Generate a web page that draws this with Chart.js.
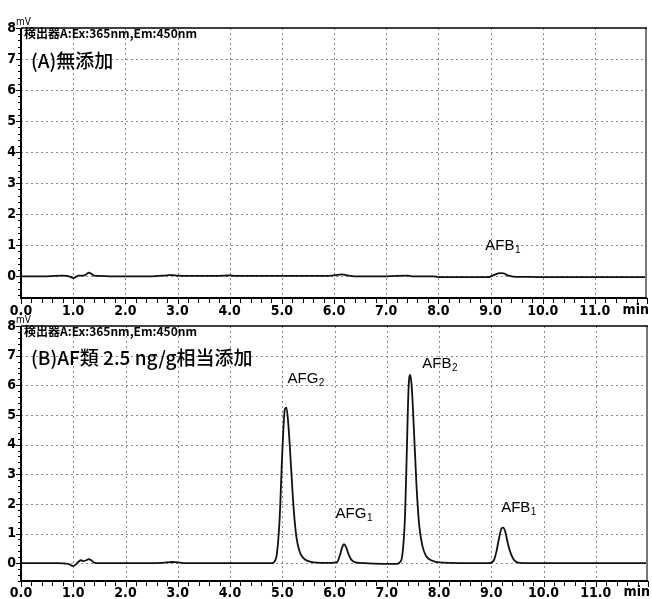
<!DOCTYPE html>
<html>
<head>
<meta charset="utf-8">
<script src="https://cdn.jsdelivr.net/npm/chart.js@4"></script>
<style>
html, body { margin: 0; padding: 0; background: #fff; }
#wrap { position: relative; width: 652px; height: 599px; overflow: hidden; }
canvas { position: absolute; left: 0; }
#chartA { top: 0; }
#chartB { top: 300px; }
</style>
</head>
<body>
<div id="wrap">
  <canvas id="chartA" width="652" height="320"></canvas>
  <canvas id="chartB" width="652" height="299"></canvas>
</div>
<script>
// tick values
const xTicks = [0, 1, 2, 3, 4, 5, 6, 7, 8, 9, 10, 11, 12];
const yTicks = [0, 1, 2, 3, 4, 5, 6, 7, 8];

// (A) blank sample
const timeA = [0, 0.5, 0.8, 0.95, 1.0, 1.05, 1.1, 1.2, 1.25, 1.3, 1.35, 1.4, 1.5, 1.8, 2.5, 2.8, 2.9, 3.0, 3.2, 3.9,
    4.0, 4.1, 5.0, 5.9, 6.1, 6.15, 6.25, 6.4, 7.0, 7.4, 7.5, 7.9, 8.0, 8.95, 9.05, 9.15, 9.2, 9.25, 9.35, 9.5,
    9.8, 10.0, 11.0, 12.0];
const signalA = [0, 0, 0.02, -0.02, -0.06, -0.02, 0.02, 0.02, 0.06, 0.12, 0.08, 0.02, 0.01, 0, 0, 0.03, 0.04, 0.02, 0.01, 0.02,
    0.03, 0.01, 0.01, 0.01, 0.05, 0.06, 0.03, 0, 0, 0.02, 0, 0, -0.03, -0.03, 0.03, 0.09, 0.1, 0.09, 0.02, -0.02,
    -0.02, -0.03, -0.03, -0.03];

// (B) spiked sample
const timeB = [0, 0.7, 0.9, 1.0, 1.05, 1.1, 1.15, 1.2, 1.25, 1.3, 1.35, 1.4, 1.5, 2.0, 2.7, 2.9, 3.0, 3.1, 4.0, 4.8,
    4.85, 4.9, 4.95, 5.0, 5.05, 5.08, 5.12, 5.17, 5.22, 5.27, 5.33, 5.4, 5.5, 5.6, 5.95, 6.05, 6.1, 6.15, 6.18, 6.22,
    6.27, 6.32, 6.4, 6.6, 7.0, 7.2, 7.25, 7.3, 7.35, 7.38, 7.42, 7.45, 7.48, 7.52, 7.57, 7.62, 7.68, 7.75, 7.85, 8.0,
    8.95, 9.05, 9.1, 9.15, 9.2, 9.23, 9.27, 9.32, 9.38, 9.45, 9.55, 10.0, 11.0, 12.0];
const signalB = [0, 0, -0.02, -0.1, -0.04, 0.05, 0.1, 0.07, 0.1, 0.14, 0.09, 0.02, 0, 0, 0.01, 0.04, 0.03, 0, 0, 0,
    0.05, 0.35, 1.5, 3.7, 5.2, 5.25, 4.6, 3.2, 1.8, 0.9, 0.4, 0.18, 0.07, 0.03, 0.01, 0.04, 0.25, 0.55, 0.64, 0.55,
    0.3, 0.12, 0.03, 0, -0.02, -0.02, 0.03, 0.3, 1.6, 3.5, 6.0, 6.35, 5.9, 4.5, 2.6, 1.3, 0.6, 0.25, 0.1, 0.03,
    0, 0.1, 0.4, 0.85, 1.18, 1.2, 1.05, 0.65, 0.3, 0.08, 0.01, 0, 0, 0];

const headerText = '検出器A:Ex:365nm,Em:450nm';
const titleA = '(A)無添加';
const titleB = '(B)AF類 2.5 ng/g相当添加';

// peak label anchors (min, mV)
const peaksA = [{ name: 'AFB', sub: '1', t: 8.9, v: 0.84 }];
const peaksB = [
    { name: 'AFG', sub: '2', t: 5.1, v: 6.08 },
    { name: 'AFG', sub: '1', t: 6.02, v: 1.52 },
    { name: 'AFB', sub: '2', t: 7.68, v: 6.59 },
    { name: 'AFB', sub: '1', t: 9.19, v: 1.72 },
];

const tickFont = '"DejaVu Sans Condensed"';

function line(ctx, x1, y1, x2, y2) {
    ctx.beginPath();
    ctx.moveTo(x1, y1);
    ctx.lineTo(x2, y2);
    ctx.stroke();
}

const framePlugin = {
    id: 'frame',
    beforeDatasetsDraw(chart) {
        const { ctx, chartArea: a, scales: { x, y } } = chart;
        ctx.save();
        ctx.strokeStyle = '#8a8a8a';
        ctx.lineWidth = 1;
        ctx.setLineDash([2, 3]);
        xTicks.forEach(v => {
            if (v <= 0 || v >= 12) return;
            const px = Math.round(x.getPixelForValue(v)) + 0.5;
            line(ctx, px, a.top, px, a.bottom);
        });
        yTicks.forEach(v => {
            if (v >= 8) return;
            const py = Math.round(y.getPixelForValue(v)) + 0.5;
            line(ctx, a.left, py, a.right, py);
        });
        ctx.restore();
    },
    afterDatasetsDraw(chart, args, opts) {
        const { ctx, chartArea: a, scales: { x, y } } = chart;
        ctx.save();
        // borders
        ctx.strokeStyle = '#777';
        ctx.lineWidth = 2;
        line(ctx, a.right - 1, a.top, a.right - 1, a.bottom);
        ctx.strokeStyle = '#000';
        ctx.lineWidth = 1.5;
        line(ctx, a.left, a.top, a.right, a.top);
        ctx.lineWidth = 2;
        line(ctx, a.left, a.top, a.left, a.bottom + 1);
        line(ctx, a.left, a.bottom, a.right, a.bottom);

        // tick marks
        ctx.lineWidth = 1;
        for (let i = 0; i <= 60; i++) {
            const px = Math.round(x.getPixelForValue(i * 0.2)) + 0.5;
            line(ctx, px, a.bottom, px, a.bottom + (i % 5 === 0 ? 6 : 5));
        }
        for (let i = -3; i <= 40; i++) {
            const py = Math.round(y.getPixelForValue(i * 0.2)) + 0.5;
            line(ctx, a.left - (i % 5 === 0 ? 5 : 3), py, a.left, py);
        }

        // axis units
        ctx.fillStyle = '#000';
        ctx.font = 'bold 14px ' + tickFont;
        ctx.textAlign = 'right';
        ctx.textBaseline = 'top';
        ctx.fillText('min', a.right + 2, a.bottom + x.options.ticks.padding);
        ctx.font = '10px "DejaVu Sans Condensed"';
        ctx.textAlign = 'left';
        ctx.textBaseline = 'alphabetic';
        ctx.fillText('mV', a.left - 5, a.top - 3);

        // detector header, squeezed
        ctx.font = '600 12px "Noto Sans CJK JP"';
        const w = ctx.measureText(headerText).width;
        ctx.save();
        ctx.translate(a.left + 3, a.top + 10);
        ctx.scale(173 / w, 1);
        ctx.fillText(headerText, 0, 0);
        ctx.restore();

        // panel title
        ctx.font = '500 19px "Noto Sans CJK JP"';
        ctx.fillText(opts.title, a.left + 10, y.getPixelForValue(7) + 9);

        // peak labels
        opts.peaks.forEach(p => {
            const px = x.getPixelForValue(p.t);
            const py = y.getPixelForValue(p.v);
            ctx.font = '15px "Liberation Sans"';
            ctx.fillText(p.name, px, py);
            const nw = ctx.measureText(p.name).width;
            ctx.font = '10px "Liberation Sans"';
            ctx.fillText(p.sub, px + nw + 0.5, py + 3);
        });
        ctx.restore();
    }
};

function makeChart(id, times, signal, title, peaks, padTop, xHeight, yMin, tickPad) {
    const ctx = document.getElementById(id).getContext('2d');
    return new Chart(ctx, {
        type: 'line',
        data: {
            datasets: [{
                data: times.map((t, i) => ({ x: t, y: signal[i] })),
                borderColor: '#111',
                borderWidth: 1.8,
                pointRadius: 0,
                cubicInterpolationMode: 'monotone',
                fill: false,
            }],
        },
        options: {
            responsive: false,
            animation: false,
            layout: { padding: { top: padTop, right: 3, left: 0, bottom: 0 } },
            plugins: {
                legend: { display: false },
                tooltip: { enabled: false },
                frame: { title, peaks },
            },
            scales: {
                x: {
                    type: 'linear',
                    min: 0,
                    max: 12,
                    afterBuildTicks: s => { s.ticks = xTicks.map(v => ({ value: v })); },
                    afterFit: s => { s.height = xHeight; },
                    grid: { display: true, drawOnChartArea: false, drawTicks: false, color: 'rgba(0,0,0,0)' },
                    border: { display: false },
                    ticks: {
                        padding: tickPad,
                        maxRotation: 0,
                        autoSkip: false,
                        color: '#000',
                        font: { family: tickFont, size: 14, weight: 'bold' },
                        callback: v => (v >= 12 ? '' : v.toFixed(1)),
                    },
                },
                y: {
                    min: yMin,
                    max: 8,
                    afterBuildTicks: s => { s.ticks = yTicks.map(v => ({ value: v })); },
                    afterFit: s => { s.width = 21; },
                    grid: { display: true, drawOnChartArea: false, drawTicks: false, color: 'rgba(0,0,0,0)' },
                    border: { display: false },
                    ticks: {
                        padding: 5,
                        color: '#000',
                        font: { family: tickFont, size: 14, weight: 'bold' },
                        callback: v => String(v),
                    },
                },
            },
        },
        plugins: [framePlugin],
    });
}

makeChart('chartA', timeA, signalA, titleA, peaksA, 28, 22, -0.7, 5);
makeChart('chartB', timeB, signalB, titleB, peaksB, 26, 18, -0.6, 4);
</script>
</body>
</html>
